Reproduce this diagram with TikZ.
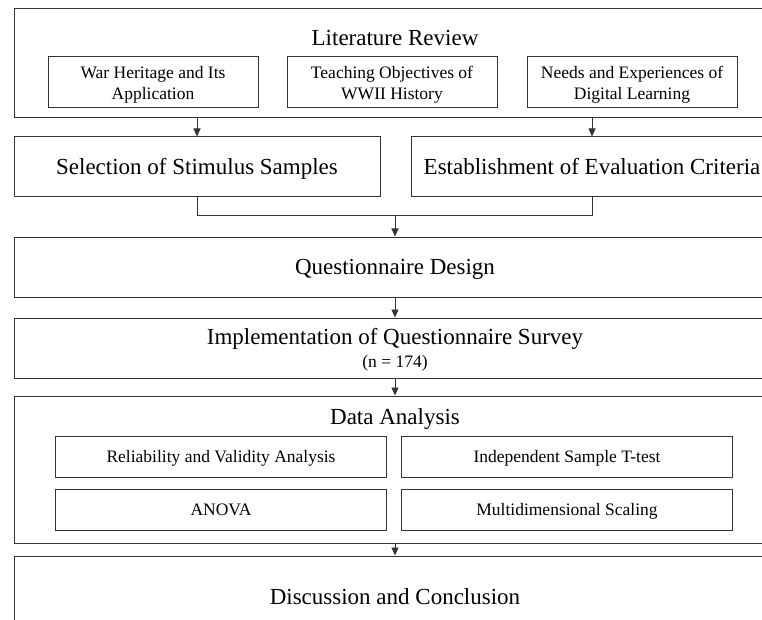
\documentclass[tikz,border=0pt]{standalone}
\usepackage{fontspec}
\setmainfont{Liberation Serif}
\usetikzlibrary{arrows.meta}
\newcommand{\boxfont}{\fontsize{23}{27}\selectfont}
\newcommand{\subfont}{\fontsize{17.5}{21}\selectfont}

\begin{document}
\begin{tikzpicture}[x=1pt, y=-1pt, line width=1pt]
  \tikzstyle{panel} = [draw=black!80, inner sep=0pt, font=\boxfont, minimum height=60pt];
  \tikzstyle{subbox} = [draw=black!80, inner sep=0pt, align=center, font=\subfont, minimum height=51pt];
  \tikzstyle{bigline} = [text height=15.2pt, text depth=0pt];
  \tikzstyle{smallline} = [text height=11.6pt, text depth=0pt];
  \tikzstyle{arr} = [draw=black!80, line width=0.9pt, -{Triangle[length=8pt,width=7pt]}];
  \useasboundingbox (0,0) rectangle (762,620);
  \clip (0,0) rectangle (762,620);
  % literature review
  \node[panel, minimum width=762pt, minimum height=109pt] (lit) at (395,63.5) {};
  \node[font=\boxfont, bigline] (littitle) at (395,38) {Literature Review};
  \foreach \n/\x/\txt in {1/153/{War Heritage and Its\\Application}, 2/392/{Teaching Objectives of\\WWII History}, 3/632/{Needs and Experiences of\\Digital Learning}}{
    \node[subbox, minimum width=210pt, text depth=0pt] (lit\n) at (\x,82.5) {\txt};
  }
  % samples and criteria
  \node[panel, bigline, minimum width=366pt] (sel) at (197,167) {Selection of Stimulus Samples};
  \node[panel, bigline, minimum width=362pt] (est) at (592,167) {Establishment of Evaluation Criteria};
  \draw[arr] (lit.south -| sel.north) -- (sel.north);
  \draw[arr] (lit.south -| est.north) -- (est.north);
  \coordinate (join) at (395,215.5);
  \draw[draw=black!80, line width=0.9pt] (sel.south) |- (join) -| (est.south);
  % questionnaire
  \node[panel, bigline, minimum width=762pt] (qd) at (395,267) {Questionnaire Design};
  \draw[arr] (join) -- (qd.north);
  \node[panel, minimum width=762pt, align=center, text depth=0pt] (impl) at (395,348) {Implementation of Questionnaire Survey\\[-4pt]{\subfont (n = 174)}};
  \draw[arr] (qd.south) -- (impl.north);
  % data analysis
  \node[panel, minimum width=762pt, minimum height=147pt] (da) at (395,469.5) {};
  \node[font=\boxfont, bigline] (datitle) at (395,417) {Data Analysis};
  \foreach \n/\x/\y/\txt in {1/221/456.5/Reliability and Validity Analysis, 2/567/456.5/Independent Sample T-test, 3/221/509.5/ANOVA, 4/567/509.5/Multidimensional Scaling}{
    \node[subbox, smallline, minimum width=331pt, minimum height=41pt] (da\n) at (\x,\y) {\txt};
  }
  \draw[arr] (impl.south) -- (da.north);
  \node[panel, bigline, minimum width=762pt, minimum height=82pt] (dc) at (395,597) {Discussion and Conclusion};
  \draw[arr] (da.south) -- (dc.north);
\end{tikzpicture}
\end{document}
